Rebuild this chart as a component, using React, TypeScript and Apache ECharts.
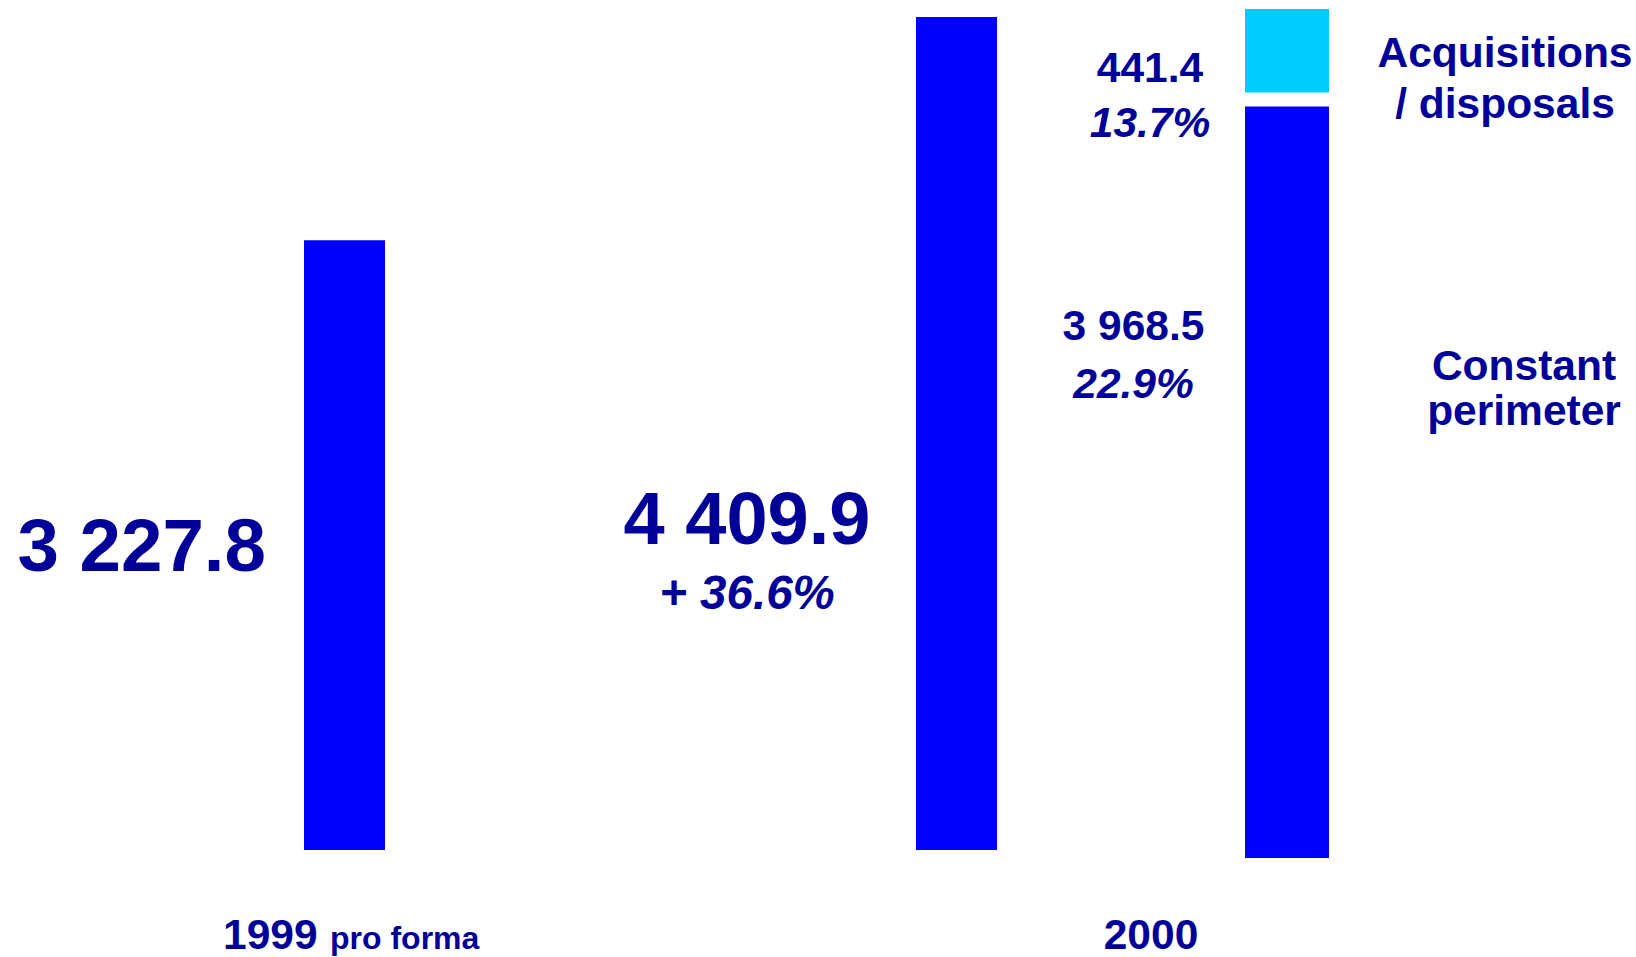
import React, { useEffect, useRef } from "react";
import * as echarts from "echarts";

// Revenue totals per year
const categories = ["1999 pro forma", "2000"];
const totals = [3227.8, 4409.9];
const totalChange = ["", "+ 36.6%"];

// 2000 breakdown (stacked from the bottom)
const breakdownNames = ["Constant perimeter", "Acquisitions / disposals"];
const breakdownValues = [3968.5, 441.4];
const breakdownChange = ["22.9%", "13.7%"];

const TEXT = "#000099";
const BLUE = "#0000FF";
const CYAN = "#00CCFF";
const FONT = "'Liberation Sans', Arial, Helvetica, sans-serif";

const W = 1636;
const H = 957;

const fmt = (v: number) => {
  const [i, d] = v.toFixed(1).split(".");
  return i.replace(/\B(?=(\d{3})+(?!\d))/g, " ") + "." + d;
};

export default function App() {
  const ref = useRef<HTMLDivElement>(null);

  useEffect(() => {
    if (!ref.current) return;
    const chart = echarts.init(ref.current, undefined, { renderer: "svg" });

    // Breakdown bar geometry
    const bLeft = 1245;
    const bWidth = 84;
    const bTop = 9;
    const bBottom = 858;
    const bHeight = bBottom - bTop;
    const gapPx = 14;
    const bTotal = breakdownValues.reduce((a, b) => a + b, 0);
    const gapValue = (gapPx * bTotal) / (bHeight - gapPx);

    const bold = {
      fontFamily: FONT,
      fontWeight: "bold" as const,
      color: TEXT,
    };

    const totalsData = totals.map((v, i) => {
      if (i === 0) {
        return {
          value: v,
          label: {
            show: true,
            position: "left",
            distance: 38,
            formatter: fmt(v),
            fontSize: 74.5,
            ...bold,
          },
        };
      }
      return {
        value: v,
        label: {
          show: true,
          position: [-169, 530],
          align: "center",
          verticalAlign: "middle",
          formatter: `{v|${fmt(v)}}\n{p|${totalChange[i]}}`,
          rich: {
            v: { fontSize: 74, lineHeight: 90, align: "center", ...bold },
            p: {
              fontSize: 47.5,
              lineHeight: 57,
              fontStyle: "italic",
              align: "center",
              ...bold,
            },
          },
        },
      };
    });

    const smallRich = (lh: number) => ({
      v: { fontSize: 42.5, lineHeight: lh, align: "center", ...bold },
      p: {
        fontSize: 42.5,
        lineHeight: lh,
        fontStyle: "italic",
        align: "center",
        ...bold,
      },
    });

    const labelOffsets: [number, number][] = [
      [-111.5, 248],
      [-95, 86],
    ];
    const labelLineHeights = [58.5, 55];

    const breakdownSeries = breakdownValues.map((v, i) => ({
      name: breakdownNames[i],
      type: "bar",
      stack: "breakdown",
      xAxisIndex: 1,
      yAxisIndex: 1,
      barWidth: bWidth,
      itemStyle: { color: i === 0 ? BLUE : CYAN },
      label: {
        show: true,
        position: labelOffsets[i],
        align: "center",
        verticalAlign: "middle",
        formatter: `{v|${fmt(v)}}\n{p|${breakdownChange[i]}}`,
        rich: smallRich(labelLineHeights[i]),
      },
      data: [v],
    }));

    // transparent spacer between the two stacked segments
    const spacer = {
      name: "spacer",
      type: "bar",
      stack: "breakdown",
      xAxisIndex: 1,
      yAxisIndex: 1,
      barWidth: bWidth,
      silent: true,
      itemStyle: { color: "rgba(0,0,0,0)" },
      data: [gapValue],
    };

    const [yearA, ...noteA] = categories[0].split(" ");

    const textStyle = (size: number) => ({
      fontFamily: FONT,
      fontWeight: "bold",
      fontSize: size,
      fill: TEXT,
    });

    chart.setOption({
      animation: false,
      backgroundColor: "#ffffff",
      grid: [
        { left: 38.5, width: 1224, top: 17, height: 833 },
        { left: bLeft, width: bWidth, top: bTop, height: bHeight },
      ],
      xAxis: [
        { type: "category", gridIndex: 0, data: categories, show: false },
        { type: "category", gridIndex: 1, data: [categories[1]], show: false },
      ],
      yAxis: [
        { type: "value", gridIndex: 0, min: 0, max: totals[1], show: false },
        {
          type: "value",
          gridIndex: 1,
          min: 0,
          max: bTotal + gapValue,
          show: false,
        },
      ],
      series: [
        {
          name: "Total",
          type: "bar",
          xAxisIndex: 0,
          yAxisIndex: 0,
          barWidth: 81,
          itemStyle: { color: BLUE },
          data: totalsData,
        },
        breakdownSeries[0],
        spacer,
        breakdownSeries[1],
      ],
      graphic: [
        {
          type: "text",
          x: 1505,
          y: 78,
          style: {
            text: breakdownNames[1].replace(" / ", "\n/ "),
            ...textStyle(42.5),
            lineHeight: 51,
            align: "center",
            verticalAlign: "middle",
          },
        },
        {
          type: "text",
          x: 1524,
          y: 388,
          style: {
            text: breakdownNames[0].replace(" ", "\n"),
            ...textStyle(42.5),
            lineHeight: 45,
            align: "center",
            verticalAlign: "middle",
          },
        },
        {
          type: "text",
          x: 223,
          y: 934,
          style: {
            text: yearA,
            ...textStyle(42.5),
            align: "left",
            verticalAlign: "middle",
          },
        },
        {
          type: "text",
          x: 330,
          y: 937.5,
          style: {
            text: noteA.join(" "),
            ...textStyle(32),
            align: "left",
            verticalAlign: "middle",
          },
        },
        {
          type: "text",
          x: 1151,
          y: 934,
          style: {
            text: categories[1],
            ...textStyle(42.5),
            align: "center",
            verticalAlign: "middle",
          },
        },
      ],
    });

    return () => chart.dispose();
  }, []);

  return (
    <div
      ref={ref}
      style={{
        position: "absolute",
        left: 0,
        top: 0,
        width: W,
        height: H,
        background: "#ffffff",
      }}
    />
  );
}
